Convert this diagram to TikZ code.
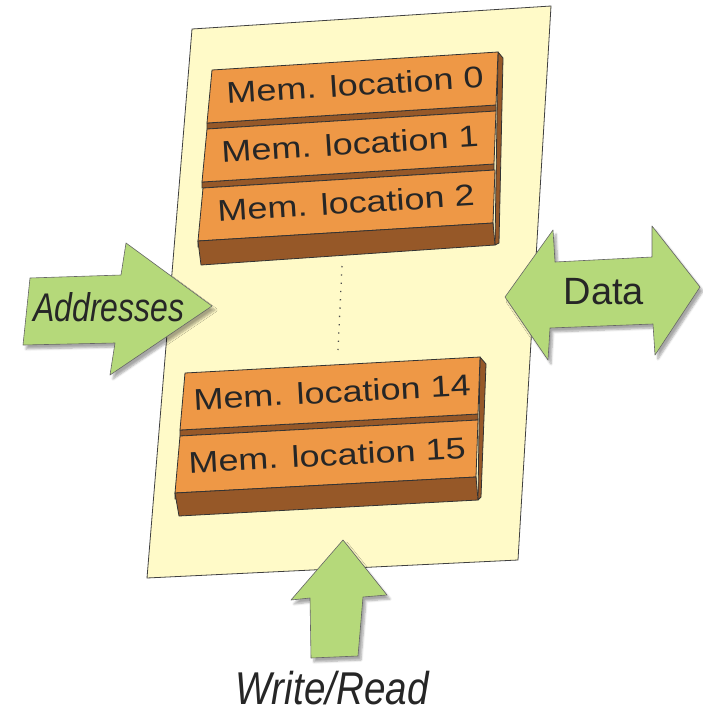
\documentclass[tikz,border=0pt]{standalone}
\usepackage{fontspec}
\setmainfont{Liberation Sans}
\usetikzlibrary{shadows.blur}
\definecolor{paper}{RGB}{255,250,200}
\definecolor{slabfront}{RGB}{238,152,70}
\definecolor{slabdark}{RGB}{150,88,40}
\definecolor{arrowgreen}{RGB}{181,217,122}
\begin{document}
\begin{tikzpicture}[x=1pt,y=-1pt,
    slab/.style={draw=black!80,fill=slabfront,line width=0.8pt,line join=round},
    slabside/.style={draw=black!80,fill=slabdark,line width=0.8pt,line join=round},
    slabtext/.style={font=\fontsize{30}{30}\selectfont,text=black!85,inner sep=0pt},
    fatarrow/.style={draw=black!60,fill=arrowgreen,line width=0.6pt,line join=round,
        blur shadow={shadow xshift=3pt,shadow yshift=-4pt,shadow blur steps=6,shadow opacity=35}},
    arrowtext/.style={text=black!85,inner sep=0pt}]
    \useasboundingbox (0,0) rectangle (703,713);

    % the memory sheet
    \draw[draw=black!75,fill=paper,line width=0.8pt] (192,29) -- (551,6) -- (518,560) -- (147,578) -- cycle;

    % locations 0 to 2
    \draw[slabside] (498,52) -- (503,58) -- (499,243) -- (495,245) -- cycle;
    \foreach \x/\y/\w/\n in {212/70/286/0, 207/129/289/1, 203/188/292/2} {
        \draw[slabside] (\x-5,\y+53) -- ++(\w+3,-18) -- ++(0,6) -- ++(-\w-3,18) -- cycle;
        \draw[slab] (\x,\y) -- ++(\w,-18) -- ++(-2,53) -- ++(-\w-3,18) -- cycle;
        \node[slabtext,rotate=3.6,xscale=1.2] (loc\n) at (\x+143,\y+15) {Mem. location \n};
    }
    \draw[slabside] (198,241) -- (493,223) -- (495,245) -- (201,265) -- cycle;

    \draw[black!70,line width=1.3pt,dash pattern=on 1.3pt off 7pt] (342,266) -- (338,350);

    % locations 14 and 15
    \draw[slabside] (480,357) -- (486,364) -- (481,497) -- (478,500) -- cycle;
    \foreach \x/\y/\w/\n in {185/373/295/14, 180/436/298/15} {
        \draw[slabside] (\x-5,\y+57) -- ++(\w+3,-16) -- ++(0,6) -- ++(-\w-3,16) -- cycle;
        \draw[slab] (\x,\y) -- ++(\w,-16) -- ++(-2,57) -- ++(-\w-3,16) -- cycle;
        \node[slabtext,rotate=3.1,xscale=1.2] (loc\n) at (\x+147,\y+19) {Mem. location \n};
    }
    \draw[slabside] (175,493) -- (476,477) -- (478,500) -- (179,516) -- cycle;

    % arrows
    \draw[fatarrow] (30,278) -- (121,275) -- (126,243) -- (212,306) -- (110,375) -- (115,343) -- (23,345) -- cycle;
    \node[arrowtext,font=\fontsize{40}{40}\selectfont\itshape,xscale=0.8] (addr) at (109,307) {Addresses};

    \draw[fatarrow] (505,297) -- (553,230) -- (555,262) -- (652,257) -- (652,226) -- (700,287)
        -- (655,355) -- (653,324) -- (550,328) -- (548,360) -- cycle;
    \node[arrowtext,font=\fontsize{38}{38}\selectfont] (data) at (604,292) {Data};

    \draw[fatarrow] (343,540) -- (387,595) -- (363,597) -- (358,656) -- (311,658) -- (310,598) -- (291,600) -- cycle;
    \node[arrowtext,font=\fontsize{46}{46}\selectfont\itshape,xscale=0.84] (wr) at (332,688) {Write/Read};
\end{tikzpicture}
\end{document}
